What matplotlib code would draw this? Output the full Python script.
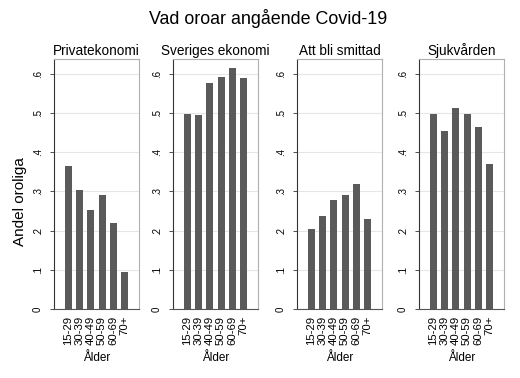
import matplotlib
matplotlib.use("Agg")
import matplotlib.pyplot as plt
import numpy as np

plt.rcParams["font.family"] = ["Liberation Sans", "DejaVu Sans"]

age_groups = ["15-29", "30-39", "40-49", "50-59", "60-69", "70+"]
panel_titles = ["Privatekonomi", "Sveriges ekonomi", "Att bli smittad", "Sjukvården"]
privatekonomi = [0.364, 0.304, 0.253, 0.290, 0.220, 0.095]
sveriges_ekonomi = [0.498, 0.495, 0.577, 0.593, 0.615, 0.590]
att_bli_smittad = [0.203, 0.237, 0.277, 0.290, 0.320, 0.230]
sjukvarden = [0.498, 0.453, 0.513, 0.498, 0.465, 0.370]
series = [privatekonomi, sveriges_ekonomi, att_bli_smittad, sjukvarden]
y_ticks = [0, 0.1, 0.2, 0.3, 0.4, 0.5, 0.6]
y_tick_labels = ["0", ".1", ".2", ".3", ".4", ".5", ".6"]

W, H = 520, 378
fig = plt.figure(figsize=(W / 100, H / 100), dpi=100)
fig.patch.set_facecolor("white")

lefts = [54, 173, 297, 419]
ax_w, ax_top, ax_bot = 85, 59, 309

x = np.arange(len(age_groups))
for i, (title, vals) in enumerate(zip(panel_titles, series)):
    ax = fig.add_axes([lefts[i] / W, 1 - ax_bot / H, ax_w / W, (ax_bot - ax_top) / H])
    ax.bar(x, vals, width=0.62, color="#5a5a5a", zorder=3)
    ax.set_xlim(-1.3, 6.3)
    ax.set_ylim(0, 0.638)
    ax.set_yticks(y_ticks)
    ax.set_yticklabels(y_tick_labels, rotation=90, va="center", fontsize=7)
    ax.set_xticks(x)
    ax.set_xticklabels(age_groups, rotation=90, fontsize=8.2)
    ax.tick_params(axis="x", length=0, pad=5)
    ax.tick_params(axis="y", length=3, width=0.6, color="#333333", pad=5)
    ax.grid(axis="y", color="#e6e6e6", lw=0.8, zorder=0)
    for side in ("top", "right"):
        ax.spines[side].set_color("#b0b0b0")
        ax.spines[side].set_linewidth(0.8)
    ax.spines["left"].set_color("#333333")
    ax.spines["left"].set_linewidth(0.8)
    ax.spines["bottom"].set_color("#555555")
    ax.spines["bottom"].set_linewidth(0.8)
    ax.set_title(title, fontsize=9.8, pad=3)
    ax.set_xlabel("Ålder", fontsize=8.5, labelpad=5)

fig.text(20 / W, 1 - 202 / H, "Andel oroliga", rotation=90, ha="center", va="center", fontsize=11)
fig.suptitle("Vad oroar angående Covid-19", x=0.515, y=1 - 18 / H, va="center", fontsize=12.9)

fig.savefig("out.png", dpi=100)
